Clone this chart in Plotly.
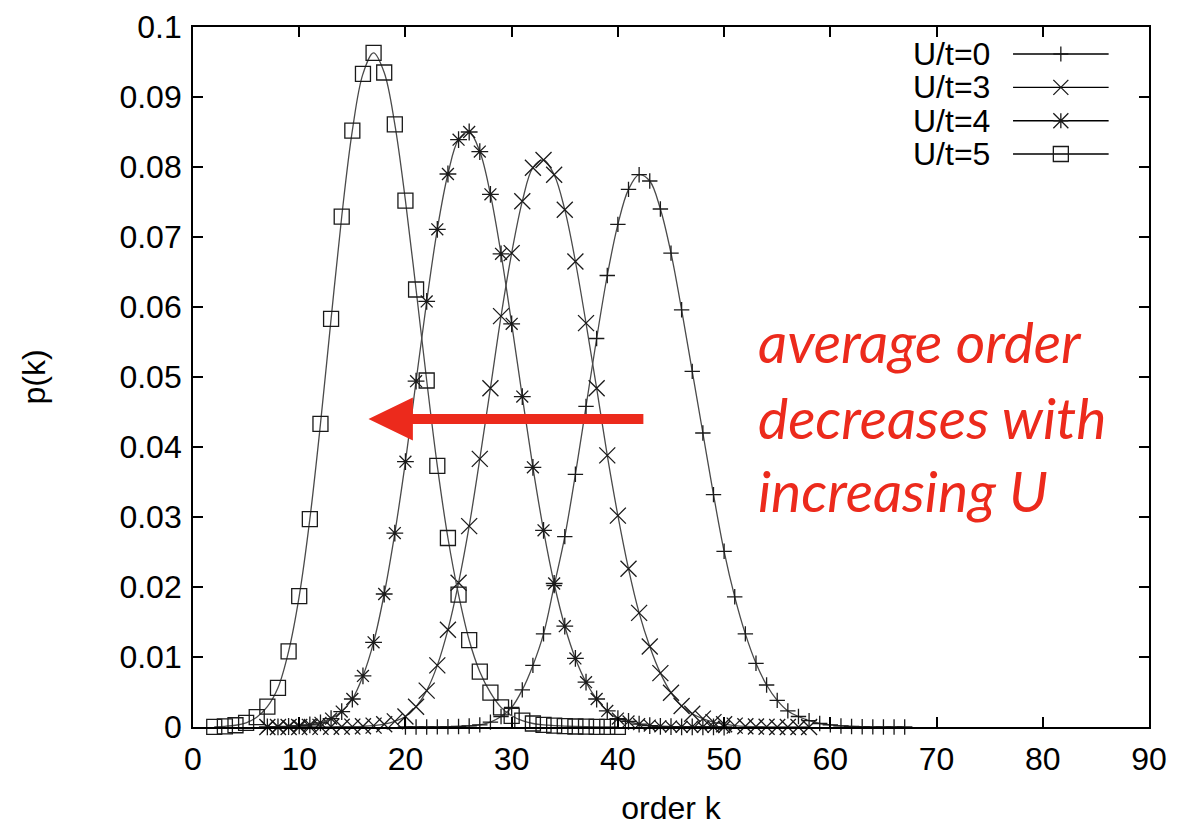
import plotly.graph_objects as go

# ---------------- data ----------------
k_u0 = list(range(20, 68))
p_u0 = [0.0, 0.0, 0.00001, 0.00002, 0.00004, 0.00008, 0.00015, 0.0003, 0.0007, 0.0015,
        0.0028, 0.0053, 0.0088, 0.0133, 0.0202, 0.0272, 0.0361, 0.0458, 0.0555, 0.0645,
        0.0718, 0.0768, 0.0789, 0.0780, 0.0740, 0.0677, 0.0596, 0.0508, 0.0420, 0.0332,
        0.0251, 0.0186, 0.0133, 0.0091, 0.0060, 0.0038, 0.0023, 0.0015, 0.0009, 0.0005,
        0.0003, 0.00015, 0.00008, 0.00004, 0.00002, 0.00001, 0.00001, 0.00001]

k_u3 = list(range(7, 59))
p_u3 = [0.0, 0.0, 0.00001, 0.00001, 0.00002, 0.00002, 0.00003, 0.00004, 0.00005, 0.0001,
        0.0002, 0.0004, 0.0008, 0.0015, 0.0029, 0.0052, 0.0088, 0.0139, 0.0206, 0.0287,
        0.0383, 0.0484, 0.0587, 0.0677, 0.0751, 0.0799, 0.0810, 0.0789, 0.0739, 0.0665,
        0.0577, 0.0484, 0.0388, 0.0302, 0.0226, 0.0163, 0.0115, 0.0077, 0.0049, 0.0030,
        0.0019, 0.0012, 0.0007, 0.0004, 0.0002, 0.0001, 0.00006, 0.00003, 0.00001, 0.00001,
        0.00001, 0.00001]

k_u4 = list(range(7, 51))
p_u4 = [0.00001, 0.00003, 0.00007, 0.00015, 0.0003, 0.0006, 0.0012, 0.0022, 0.0040, 0.0073,
        0.0121, 0.0190, 0.0277, 0.0379, 0.0494, 0.0608, 0.0711, 0.0790, 0.0839, 0.0850,
        0.0822, 0.0761, 0.0676, 0.0576, 0.0472, 0.0371, 0.0281, 0.0205, 0.0144, 0.0098,
        0.0064, 0.0040, 0.0023, 0.0012, 0.0008, 0.0004, 0.0002, 0.0001, 0.00006, 0.00003,
        0.00002, 0.00001, 0.00001, 0.0]

k_u5 = list(range(2, 41))
p_u5 = [0.00003, 0.0001, 0.00025, 0.0006, 0.0014, 0.0029, 0.0056, 0.0108, 0.0187, 0.0297,
        0.0433, 0.0583, 0.0729, 0.0852, 0.0933, 0.0963, 0.0935, 0.0861, 0.0752, 0.0625,
        0.0495, 0.0373, 0.0270, 0.0189, 0.0124, 0.0079, 0.0049, 0.0028, 0.0016, 0.0009,
        0.0005, 0.0003, 0.0002, 0.00012, 0.00007, 0.00004, 0.00002, 0.00001, 0.00001]

series_names = ["U/t=0", "U/t=3", "U/t=4", "U/t=5"]
x_ticks = list(range(0, 91, 10))
annotation_lines = ["average order", "decreases with", "increasing U"]

# ---------------- styles ----------------
LINE_COLOR = "#4a4a4a"
MARK_COLOR = "#1a1a1a"
RED = "#EC2A1C"
FONT = "Liberation Sans, Arial, Helvetica, sans-serif"
FSIZE = 32

styles = [
    dict(symbol="cross-thin-open", size=11),
    dict(symbol="x-thin-open", size=16),
    dict(symbol="asterisk-open", size=14),
    dict(symbol="square-open", size=15),
]
data = [(k_u0, p_u0), (k_u3, p_u3), (k_u4, p_u4), (k_u5, p_u5)]

fig = go.Figure()
for name, (k, p), st in zip(series_names, data, styles):
    fig.add_trace(go.Scatter(
        x=k, y=p, name=name, mode="lines+markers",
        line=dict(color=LINE_COLOR, width=1.3, shape="spline", smoothing=1.0),
        marker=dict(symbol=st["symbol"], size=st["size"], color=MARK_COLOR,
                    line=dict(color=MARK_COLOR, width=1.3)),
        cliponaxis=False, showlegend=False,
    ))

# ---------------- custom legend (text left, sample right) ----------------
legend_rows_y = [0.09614, 0.09137, 0.08661, 0.08186]
legend_text_x = 75.2
legend_line_x0, legend_line_x1, legend_mark_x = 77.2, 86.2, 81.7
h = 7.5
legend_paths = [
    f"M {-h} 0 L {h} 0 M 0 {-h} L 0 {h}",
    f"M {-h} {-h} L {h} {h} M {-h} {h} L {h} {-h}",
    f"M {-h} 0 L {h} 0 M 0 {-h} L 0 {h} M {-h} {-h} L {h} {h} M {-h} {h} L {h} {-h}",
    f"M {-h} {-h} L {h} {-h} L {h} {h} L {-h} {h} Z",
]
shapes = []
annotations = []
for name, yy, path in zip(series_names, legend_rows_y, legend_paths):
    annotations.append(dict(x=legend_text_x, y=yy, xref="x", yref="y", text=name,
                            showarrow=False, xanchor="right", yanchor="middle",
                            font=dict(family=FONT, size=FSIZE, color="black")))
    shapes.append(dict(type="line", xref="x", yref="y", x0=legend_line_x0, x1=legend_line_x1,
                       y0=yy, y1=yy, line=dict(color="black", width=1.3)))
    shapes.append(dict(type="path", xref="x", yref="y", xsizemode="pixel", ysizemode="pixel",
                       xanchor=legend_mark_x, yanchor=yy, path=path,
                       line=dict(color=MARK_COLOR, width=1.3), fillcolor="rgba(0,0,0,0)"))

# ---------------- red arrow + text ----------------
arrow_tip = (16.52, 0.0440)
arrow_head_x = 20.70
arrow_head_half = 0.00308
arrow_shaft_half = 0.00071
arrow_end_x = 42.40
ty = arrow_tip[1]
arrow_path = (f"M {arrow_tip[0]},{ty} L {arrow_head_x},{ty + arrow_head_half} "
              f"L {arrow_head_x},{ty + arrow_shaft_half} L {arrow_end_x},{ty + arrow_shaft_half} "
              f"L {arrow_end_x},{ty - arrow_shaft_half} L {arrow_head_x},{ty - arrow_shaft_half} "
              f"L {arrow_head_x},{ty - arrow_head_half} Z")
shapes.append(dict(type="path", xref="x", yref="y", path=arrow_path,
                   fillcolor=RED, line=dict(width=0)))

text_x = 53.0
text_ys = [0.0552, 0.0443, 0.0339]
for line_txt, yy in zip(annotation_lines, text_ys):
    annotations.append(dict(x=text_x, y=yy, xref="x", yref="y", text=f"<i>{line_txt}</i>",
                            showarrow=False, xanchor="left", yanchor="middle",
                            font=dict(family="Lato, sans-serif", size=57, color=RED)))

fig.update_layout(
    width=1200, height=826,
    margin=dict(l=193, r=51, t=27, b=99),
    paper_bgcolor="white", plot_bgcolor="white",
    font=dict(family=FONT, size=FSIZE, color="black"),
    showlegend=False, shapes=shapes, annotations=annotations,
)
axis_common = dict(ticks="inside", ticklen=10, tickwidth=1.5, tickcolor="black",
                   showline=True, linewidth=1.8, linecolor="black", mirror="ticks",
                   showgrid=False, zeroline=False, automargin=False)
fig.update_xaxes(range=[0, 90], tickvals=x_ticks, ticktext=[str(v) for v in x_ticks],
                 title=dict(text="order k", standoff=27, font=dict(size=FSIZE)),
                 ticklabelstandoff=3, **axis_common)
fig.update_yaxes(range=[0, 0.1], dtick=0.01, tick0=0,
                 title=dict(text="p(k)", standoff=64, font=dict(size=FSIZE)),
                 ticklabelstandoff=3, **axis_common)

fig.write_html("out.html", config={"displayModeBar": False},
               post_script="document.body.style.margin='0';")
